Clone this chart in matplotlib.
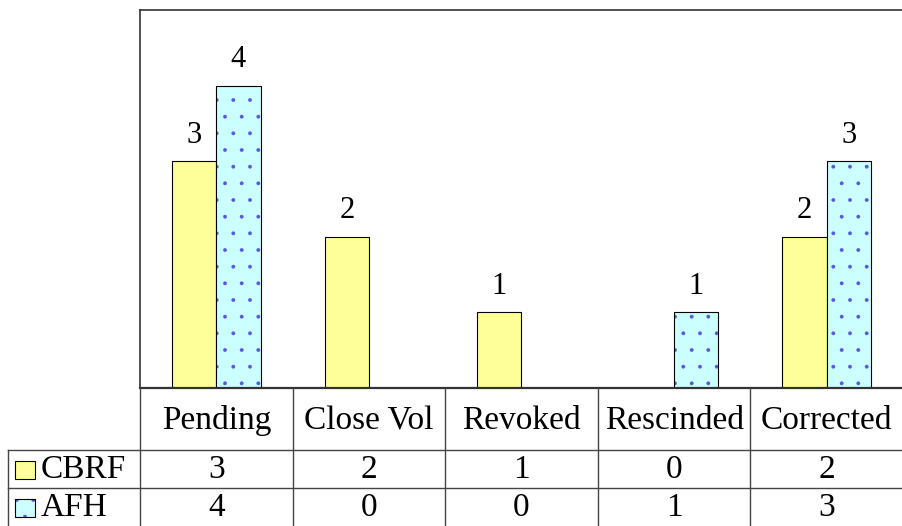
import matplotlib

matplotlib.use("Agg")
import matplotlib.pyplot as plt
import numpy as np

categories = ["Pending", "Close Vol", "Revoked", "Rescinded", "Corrected"]
series_names = ["CBRF", "AFH"]
cbrf = [3, 2, 1, 0, 2]
afh = [4, 0, 0, 1, 3]

YELLOW = "#ffff99"
CYAN = "#ccffff"
DOTS = "#5555dd"
FONT = "Liberation Serif"

plt.rcParams["hatch.linewidth"] = 0.3

W, H = 903, 526
fig = plt.figure(figsize=(W / 100, H / 100), dpi=100)

# plot area in pixels
left, right, top, bottom = 140, 903, 10, 388
ax = fig.add_axes([left / W, 1 - bottom / H, (right - left) / W, (bottom - top) / H])
x = np.arange(len(categories))
bw = 0.29

ax.bar(x - bw / 2, cbrf, bw, color=YELLOW, edgecolor="black", linewidth=0.8)
# afh: dotted fill first, then a plain black outline on top
ax.bar(x + bw / 2, afh, bw, color=CYAN, edgecolor=DOTS, hatch=".", linewidth=0)
ax.bar(x + bw / 2, afh, bw, color="none", edgecolor="black", linewidth=0.8)

for xi, v in zip(x - bw / 2, cbrf):
    if v:
        ax.text(xi, v + 0.15, str(v), ha="center", va="bottom", family=FONT, fontsize=22)
for xi, v in zip(x + bw / 2, afh):
    if v:
        ax.text(xi, v + 0.15, str(v), ha="center", va="bottom", family=FONT, fontsize=22)

ax.set_xlim(-0.5, len(categories) - 0.5)
ax.set_ylim(0, 5)
ax.set_xticks([]); ax.set_yticks([])
ax.spines["right"].set_visible(False)
ax.spines["top"].set_linewidth(1.2)
ax.spines["left"].set_linewidth(1.2)
ax.spines["bottom"].set_linewidth(1.6)
ax.spines[["top", "left", "bottom"]].set_color("#333333")

# data table underneath, drawn in pixel coordinates
tab = fig.add_axes([0, 0, 1, 1])
tab.set_xlim(0, W); tab.set_ylim(H, 0)
tab.axis("off")
colw = (right - left) / len(categories)
row_y = [388, 450, 488, 526]
lc = "#444444"
fs = 24

for i in range(len(categories) + 1):
    xx = left + i * colw
    tab.plot([xx, xx], [row_y[0], H], color=lc, lw=1)
tab.plot([8, 8], [row_y[1], H], color=lc, lw=1)
for yy in row_y[1:3]:
    tab.plot([8, W], [yy, yy], color=lc, lw=1)

for i, c in enumerate(categories):
    cx = left + (i + 0.5) * colw
    tab.text(cx, (row_y[0] + row_y[1]) / 2 + 2, c, ha="center", va="center",
             family=FONT, fontsize=fs)
    for r, vals in enumerate([cbrf, afh]):
        tab.text(cx, (row_y[r + 1] + row_y[r + 2]) / 2 + 1, str(vals[i]),
                 ha="center", va="center", family=FONT, fontsize=fs)

for r, (name, col) in enumerate(zip(series_names, [YELLOW, CYAN])):
    cy = (row_y[r + 1] + row_y[r + 2]) / 2
    hatch = "." if name == "AFH" else None
    tab.add_patch(plt.Rectangle((15, cy - 8), 20, 18, facecolor=col,
                                edgecolor=DOTS if hatch else "black", hatch=hatch, lw=0))
    tab.add_patch(plt.Rectangle((15, cy - 8), 20, 18, facecolor="none",
                                edgecolor="black", lw=0.8))
    tab.text(41, cy + 1, name, ha="left", va="center", family=FONT, fontsize=fs)

fig.savefig("out.png", dpi=100)
